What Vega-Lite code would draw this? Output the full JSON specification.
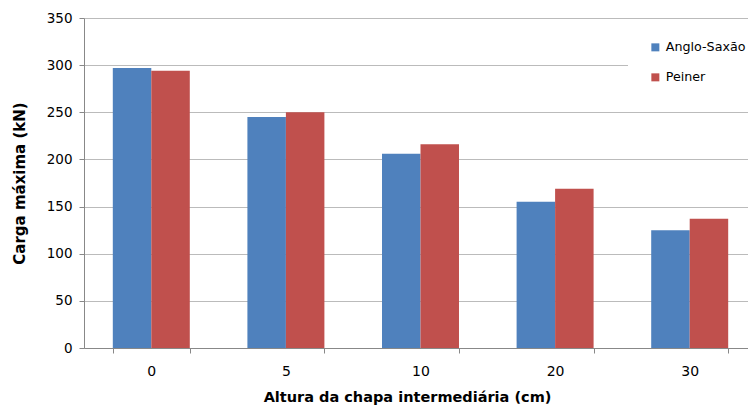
{
  "$schema": "https://vega.github.io/schema/vega-lite/v6.json",
  "width": 664,
  "height": 330,
  "autosize": {"type": "none"},
  "padding": {"left": 84, "top": 18, "right": 0, "bottom": 59},
  "background": "white",
  "config": {
    "view": {"stroke": null},
    "font": "DejaVu Sans"
  },
  "data": {
    "values": [
      {"altura": "0", "serie": "Anglo-Saxão", "carga": 297},
      {"altura": "0", "serie": "Peiner", "carga": 294},
      {"altura": "5", "serie": "Anglo-Saxão", "carga": 245},
      {"altura": "5", "serie": "Peiner", "carga": 250},
      {"altura": "10", "serie": "Anglo-Saxão", "carga": 206},
      {"altura": "10", "serie": "Peiner", "carga": 216},
      {"altura": "20", "serie": "Anglo-Saxão", "carga": 155},
      {"altura": "20", "serie": "Peiner", "carga": 169},
      {"altura": "30", "serie": "Anglo-Saxão", "carga": 125},
      {"altura": "30", "serie": "Peiner", "carga": 137}
    ]
  },
  "mark": {"type": "bar"},
  "encoding": {
    "x": {
      "field": "altura",
      "type": "ordinal",
      "sort": ["0", "5", "10", "20", "30"],
      "scale": {"range": [0, 673], "paddingInner": 0.428, "paddingOuter": 0.214},
      "axis": {
        "title": "Altura da chapa intermediária (cm)",
        "titleFont": "DejaVu Sans",
        "titleFontSize": 14.5,
        "titleFontWeight": "bold",
        "titleColor": "#000000",
        "titlePadding": 12,
        "titleX": 323,
        "titleAnchor": "middle",
        "labelAngle": 0,
        "labelFontSize": 14,
        "labelColor": "#000000",
        "labelPadding": 11,
        "domainColor": "#888888",
        "tickColor": "#888888",
        "tickBand": "extent",
        "tickSize": 5,
        "grid": false
      }
    },
    "xOffset": {
      "field": "serie",
      "type": "nominal",
      "scale": {"paddingInner": 0, "paddingOuter": 0}
    },
    "y": {
      "field": "carga",
      "type": "quantitative",
      "scale": {"domain": [0, 350], "nice": false},
      "axis": {
        "title": "Carga máxima (kN)",
        "titleFont": "DejaVu Sans",
        "titleFontSize": 15,
        "titleFontWeight": "bold",
        "titleColor": "#000000",
        "titlePadding": 19,
        "values": [0, 50, 100, 150, 200, 250, 300, 350],
        "labelFontSize": 13.5,
        "labelColor": "#000000",
        "labelPadding": 7,
        "domainColor": "#888888",
        "tickColor": "#888888",
        "tickSize": 5,
        "grid": true,
        "gridColor": "#BBBBBB",
        "gridWidth": 1
      }
    },
    "color": {
      "field": "serie",
      "type": "nominal",
      "scale": {"domain": ["Anglo-Saxão", "Peiner"], "range": ["#4F81BD", "#C0504D"]},
      "legend": {
        "title": null,
        "orient": "none",
        "legendX": 544,
        "legendY": 2,
        "padding": 21,
        "symbolType": "square",
        "symbolSize": 64,
        "symbolStrokeWidth": 0,
        "labelFontSize": 12.7,
        "labelColor": "#000000",
        "labelOffset": 4,
        "rowPadding": 16,
        "fillColor": "white"
      }
    }
  }
}
